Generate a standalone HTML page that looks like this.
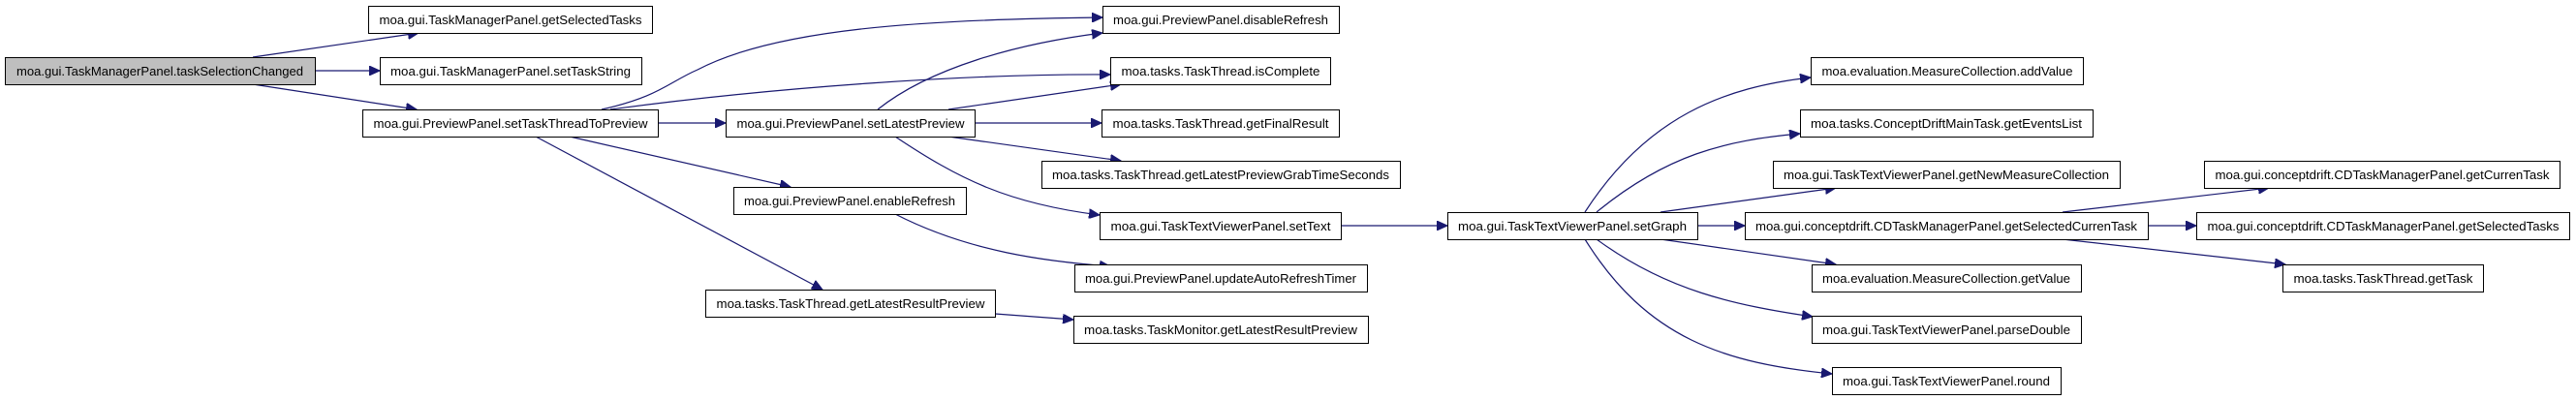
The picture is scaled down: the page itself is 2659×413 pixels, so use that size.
<!DOCTYPE html>
<html><head><meta charset="utf-8"><style>
html,body{margin:0;padding:0;background:#fff;}
svg{display:block;}
text{font-family:"Liberation Sans",sans-serif;font-size:13px;fill:#000;}
</style></head><body>
<svg width="2659" height="413" viewBox="0 0 2659 413" xmlns="http://www.w3.org/2000/svg">
<defs>
<marker id="a" markerUnits="userSpaceOnUse" markerWidth="12" markerHeight="10" refX="11" refY="5" orient="auto">
<path d="M0,0 L11,5 L0,10 z" fill="#191970" stroke="#191970"/>
</marker>
</defs>
<g fill="none" stroke="#191970" stroke-width="1.2" marker-end="url(#a)">
<path d="M261,59 L432,34"/>
<path d="M325,73 L392,73"/>
<path d="M261,87 L430,113"/>
<path d="M621,113 C680,100 690,85 720,72 C800,30 950,20 1138,18"/>
<path d="M630,113 C800,90 1000,76 1146,77"/>
<path d="M679,127 L749,127"/>
<path d="M588,141 L816,193"/>
<path d="M553,141 L849,299"/>
<path d="M906,113 C960,70 1050,45 1138,34"/>
<path d="M979,113 L1157,87"/>
<path d="M1006,127 L1137,127"/>
<path d="M979,141 L1157,166"/>
<path d="M924,141 C990,185 1040,210 1135,222"/>
<path d="M924,221 C1000,260 1080,270 1146,275"/>
<path d="M1027,324 L1108,330"/>
<path d="M1384,233 L1494,233"/>
<path d="M1636,219 C1700,120 1780,90 1869,80"/>
<path d="M1648,219 C1720,160 1780,145 1858,138"/>
<path d="M1714,219 L1895,194"/>
<path d="M1752,233 L1801,233"/>
<path d="M1714,247 L1895,273"/>
<path d="M1648,247 C1720,300 1790,315 1871,327"/>
<path d="M1636,247 C1700,350 1780,375 1891,386"/>
<path d="M2129,219 L2342,194"/>
<path d="M2217,233 L2267,233"/>
<path d="M2129,247 L2359,273"/>
</g>
<g stroke="#000" stroke-width="1">
<rect x="5.5" y="59.5" width="320" height="28" fill="#bfbfbf"/>
<rect x="380.5" y="6.5" width="293" height="28" fill="#fff"/>
<rect x="392.5" y="59.5" width="270" height="28" fill="#fff"/>
<rect x="374.5" y="113.5" width="305" height="28" fill="#fff"/>
<rect x="749.5" y="113.5" width="257" height="28" fill="#fff"/>
<rect x="757.5" y="193.5" width="240" height="28" fill="#fff"/>
<rect x="728.5" y="299.5" width="299" height="28" fill="#fff"/>
<rect x="1138.5" y="6.5" width="244" height="28" fill="#fff"/>
<rect x="1146.5" y="59.5" width="227" height="28" fill="#fff"/>
<rect x="1137.5" y="113.5" width="245" height="28" fill="#fff"/>
<rect x="1075.5" y="166.5" width="370" height="28" fill="#fff"/>
<rect x="1135.5" y="219.5" width="249" height="28" fill="#fff"/>
<rect x="1109.5" y="273.5" width="302" height="28" fill="#fff"/>
<rect x="1108.5" y="326.5" width="304" height="28" fill="#fff"/>
<rect x="1494.5" y="219.5" width="258" height="28" fill="#fff"/>
<rect x="1869.5" y="59.5" width="281" height="28" fill="#fff"/>
<rect x="1858.5" y="113.5" width="302" height="28" fill="#fff"/>
<rect x="1830.5" y="166.5" width="358" height="28" fill="#fff"/>
<rect x="1801.5" y="219.5" width="416" height="28" fill="#fff"/>
<rect x="1870.5" y="273.5" width="278" height="28" fill="#fff"/>
<rect x="1870.5" y="326.5" width="278" height="28" fill="#fff"/>
<rect x="1891.5" y="379.5" width="236" height="28" fill="#fff"/>
<rect x="2275.5" y="166.5" width="367" height="28" fill="#fff"/>
<rect x="2267.5" y="219.5" width="385" height="28" fill="#fff"/>
<rect x="2356.5" y="273.5" width="207" height="28" fill="#fff"/>
</g>
<g text-anchor="middle" lengthAdjust="spacingAndGlyphs">
<text x="165" y="78" textLength="296" lengthAdjust="spacingAndGlyphs">moa.gui.TaskManagerPanel.taskSelectionChanged</text>
<text x="527" y="25" textLength="271" lengthAdjust="spacingAndGlyphs">moa.gui.TaskManagerPanel.getSelectedTasks</text>
<text x="527" y="78" textLength="248" lengthAdjust="spacingAndGlyphs">moa.gui.TaskManagerPanel.setTaskString</text>
<text x="527" y="132" textLength="283" lengthAdjust="spacingAndGlyphs">moa.gui.PreviewPanel.setTaskThreadToPreview</text>
<text x="878" y="132" textLength="235" lengthAdjust="spacingAndGlyphs">moa.gui.PreviewPanel.setLatestPreview</text>
<text x="877" y="212" textLength="218" lengthAdjust="spacingAndGlyphs">moa.gui.PreviewPanel.enableRefresh</text>
<text x="878" y="318" textLength="277" lengthAdjust="spacingAndGlyphs">moa.tasks.TaskThread.getLatestResultPreview</text>
<text x="1260" y="25" textLength="222" lengthAdjust="spacingAndGlyphs">moa.gui.PreviewPanel.disableRefresh</text>
<text x="1260" y="78" textLength="205" lengthAdjust="spacingAndGlyphs">moa.tasks.TaskThread.isComplete</text>
<text x="1260" y="132" textLength="223" lengthAdjust="spacingAndGlyphs">moa.tasks.TaskThread.getFinalResult</text>
<text x="1260" y="185" textLength="348" lengthAdjust="spacingAndGlyphs">moa.tasks.TaskThread.getLatestPreviewGrabTimeSeconds</text>
<text x="1260" y="238" textLength="227" lengthAdjust="spacingAndGlyphs">moa.gui.TaskTextViewerPanel.setText</text>
<text x="1260" y="292" textLength="280" lengthAdjust="spacingAndGlyphs">moa.gui.PreviewPanel.updateAutoRefreshTimer</text>
<text x="1260" y="345" textLength="282" lengthAdjust="spacingAndGlyphs">moa.tasks.TaskMonitor.getLatestResultPreview</text>
<text x="1623" y="238" textLength="236" lengthAdjust="spacingAndGlyphs">moa.gui.TaskTextViewerPanel.setGraph</text>
<text x="2010" y="78" textLength="259" lengthAdjust="spacingAndGlyphs">moa.evaluation.MeasureCollection.addValue</text>
<text x="2009" y="132" textLength="280" lengthAdjust="spacingAndGlyphs">moa.tasks.ConceptDriftMainTask.getEventsList</text>
<text x="2009" y="185" textLength="336" lengthAdjust="spacingAndGlyphs">moa.gui.TaskTextViewerPanel.getNewMeasureCollection</text>
<text x="2009" y="238" textLength="394" lengthAdjust="spacingAndGlyphs">moa.gui.conceptdrift.CDTaskManagerPanel.getSelectedCurrenTask</text>
<text x="2009" y="292" textLength="256" lengthAdjust="spacingAndGlyphs">moa.evaluation.MeasureCollection.getValue</text>
<text x="2009" y="345" textLength="256" lengthAdjust="spacingAndGlyphs">moa.gui.TaskTextViewerPanel.parseDouble</text>
<text x="2009" y="398" textLength="214" lengthAdjust="spacingAndGlyphs">moa.gui.TaskTextViewerPanel.round</text>
<text x="2459" y="185" textLength="345" lengthAdjust="spacingAndGlyphs">moa.gui.conceptdrift.CDTaskManagerPanel.getCurrenTask</text>
<text x="2460" y="238" textLength="363" lengthAdjust="spacingAndGlyphs">moa.gui.conceptdrift.CDTaskManagerPanel.getSelectedTasks</text>
<text x="2460" y="292" textLength="185" lengthAdjust="spacingAndGlyphs">moa.tasks.TaskThread.getTask</text>
</g>
</svg>
</body></html>
